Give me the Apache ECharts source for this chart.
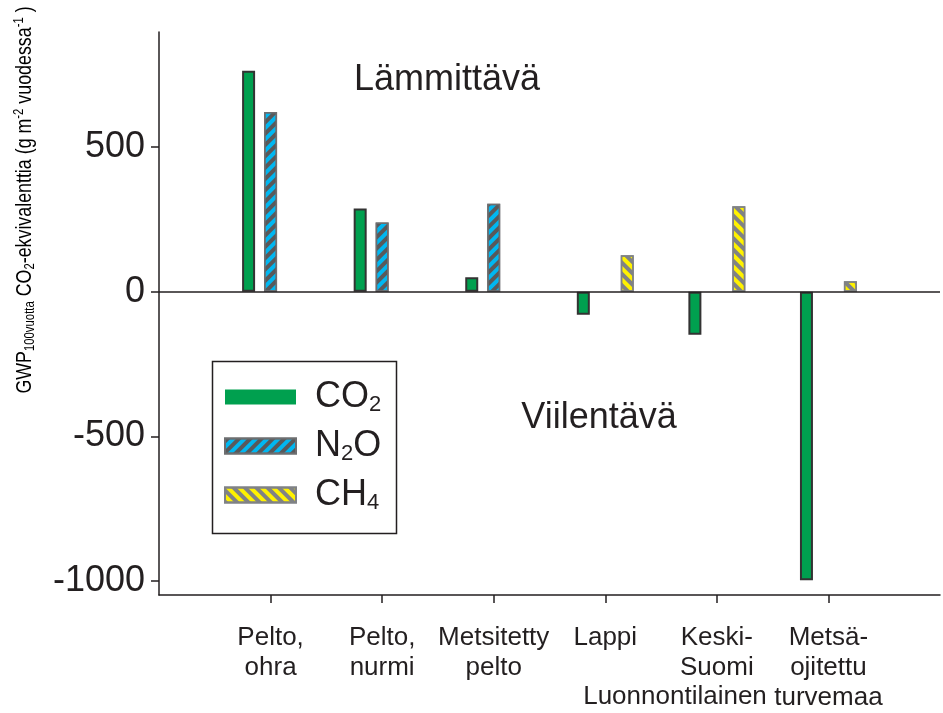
<!DOCTYPE html>
<html>
<head>
<meta charset="utf-8">
<script src="https://cdn.jsdelivr.net/npm/echarts@6/dist/echarts.min.js"></script>
<style>
    html, body { margin: 0; padding: 0; background: #fff; }
    #chart { width: 943px; height: 713px; }
</style>
</head>
<body>
<div id="chart"></div>
<script>
// categories (first and last are empty padding slots)
const categories = ['', 'Pelto,\nohra', 'Pelto,\nnurmi', 'Metsitetty\npelto', 'Lappi', 'Keski-\nSuomi', 'Metsä-\nojitettu\nturvemaa', '']
const co2 = [null, 763, 287, 50, -80, -149, -997, null]
const n2o = [null, 621, 239, 304, null, null, null, null]
const ch4 = [null, null, null, null, 126, 295, 36, null]
const yTicks = [-1000, -500, 0, 500]

const font = "'Liberation Sans', Arial, sans-serif"

const chart = echarts.init(document.getElementById('chart'), null, {renderer: 'canvas'})

const legendRich = {
    b: {fontSize: 36, fontFamily: font, color: '#231f20'},
    s: {fontSize: 22, fontFamily: font, color: '#231f20', padding: [16, 0, 0, 0]}
}

const option = {
    animation: false,
    backgroundColor: '#fff',
    grid: {
        left: 159,
        right: 1,
        top: 32,
        bottom: 116
    },
    legend: {
        orient: 'vertical',
        left: 224,
        top: 379,
        icon: 'rect',
        itemWidth: 71,
        itemHeight: 15,
        itemGap: 12,
        padding: 0,
        data: [
            {name: 'CO2', itemStyle: {borderWidth: 0}},
            {name: 'N2O'},
            {name: 'CH4'}
        ],
        formatter: function (name) {
            if (name === 'CO2') return '{b|CO}{s|2}'
            if (name === 'N2O') return '{b|N}{s|2}{b|O}'
            return '{b|CH}{s|4}'
        },
        textStyle: {
            padding: [0, 0, 0, 14],
            rich: legendRich
        }
    },
    xAxis: {
        type: 'category',
        data: categories,
        boundaryGap: false,
        axisLine: {onZero: false, lineStyle: {color: '#231f20', width: 1.5}},
        axisTick: {
            length: 8,
            interval: function (index) {
                return index > 0 && index < categories.length - 1
            },
            lineStyle: {color: '#231f20', width: 1.5}
        },
        axisLabel: {
            interval: 0,
            margin: 28,
            fontSize: 26,
            lineHeight: 30,
            fontFamily: font,
            color: '#231f20'
        },
        splitLine: {show: false}
    },
    yAxis: {
        type: 'value',
        min: -1048,
        max: 897,
        axisLine: {show: true, lineStyle: {color: '#231f20', width: 1.5}},
        axisTick: {show: true, length: 8, customValues: yTicks, lineStyle: {color: '#231f20', width: 1.5}},
        axisLabel: {
            customValues: yTicks,
            formatter: function (v) { return String(v) },
            margin: 14,
            fontSize: 36,
            fontFamily: font,
            color: '#231f20'
        },
        splitLine: {show: false}
    },
    series: [
        {
            name: 'CO2',
            type: 'bar',
            data: co2,
            barWidth: 13,
            barGap: '69%',
            itemStyle: {
                color: '#00a04f',
                borderColor: '#333333',
                borderWidth: 2
            },
            markLine: {
                silent: true,
                symbol: 'none',
                label: {show: false},
                lineStyle: {color: '#231f20', width: 1.5, type: 'solid'},
                data: [{yAxis: 0}]
            }
        },
        {
            name: 'N2O',
            type: 'bar',
            data: n2o,
            barWidth: 13,
            barGap: '69%',
            itemStyle: {
                color: '#00b7f1',
                borderColor: '#6d6e70',
                borderWidth: 1.5,
                decal: {
                    symbol: 'rect',
                    symbolSize: 1,
                    color: '#58595b',
                    dashArrayX: [1, 0],
                    dashArrayY: [4, 4],
                    rotation: -Math.PI / 4
                }
            }
        },
        {
            name: 'CH4',
            type: 'bar',
            data: ch4,
            barWidth: 13,
            barGap: '69%',
            itemStyle: {
                color: '#fff200',
                borderColor: '#808285',
                borderWidth: 1.5,
                decal: {
                    symbol: 'rect',
                    symbolSize: 1,
                    color: '#808285',
                    dashArrayX: [1, 0],
                    dashArrayY: [4, 4],
                    rotation: Math.PI / 4
                }
            }
        }
    ],
    graphic: [
        {
            type: 'rect',
            left: 210,
            top: 359,
            shape: {width: 184, height: 172},
            style: {fill: 'none', stroke: '#231f20', lineWidth: 1.5},
            silent: true
        },
        {
            type: 'text',
            x: 447,
            y: 80,
            style: {
                text: 'Lämmittävä',
                font: '36px ' + font,
                fill: '#231f20',
                textAlign: 'center',
                textVerticalAlign: 'middle'
            }
        },
        {
            type: 'text',
            x: 599,
            y: 418,
            style: {
                text: 'Viilentävä',
                font: '36px ' + font,
                fill: '#231f20',
                textAlign: 'center',
                textVerticalAlign: 'middle'
            }
        },
        {
            type: 'text',
            x: 675,
            y: 697,
            style: {
                text: 'Luonnontilainen',
                font: '26px ' + font,
                fill: '#231f20',
                textAlign: 'center',
                textVerticalAlign: 'middle'
            }
        },
        {
            // rotated y axis title, compressed along its length like the original
            type: 'text',
            x: 25,
            y: 200,
            rotation: Math.PI / 2,
            scaleX: 0.81,
            style: {
                text: '{n|GWP}{sub|100vuotta}{n| CO}{sub|2}{n|-ekvivalenttia (g m}{sup|-2}{n| vuodessa}{sup|-1}{n| )}',
                align: 'center',
                verticalAlign: 'middle',
                rich: {
                    n: {fontSize: 22, fontFamily: font, color: '#231f20'},
                    sub: {fontSize: 14, fontFamily: font, color: '#231f20', padding: [11, 0, 0, 0]},
                    sup: {fontSize: 14, fontFamily: font, color: '#231f20', padding: [0, 0, 11, 0]}
                }
            }
        }
    ]
}

chart.setOption(option)
</script>
</body>
</html>
